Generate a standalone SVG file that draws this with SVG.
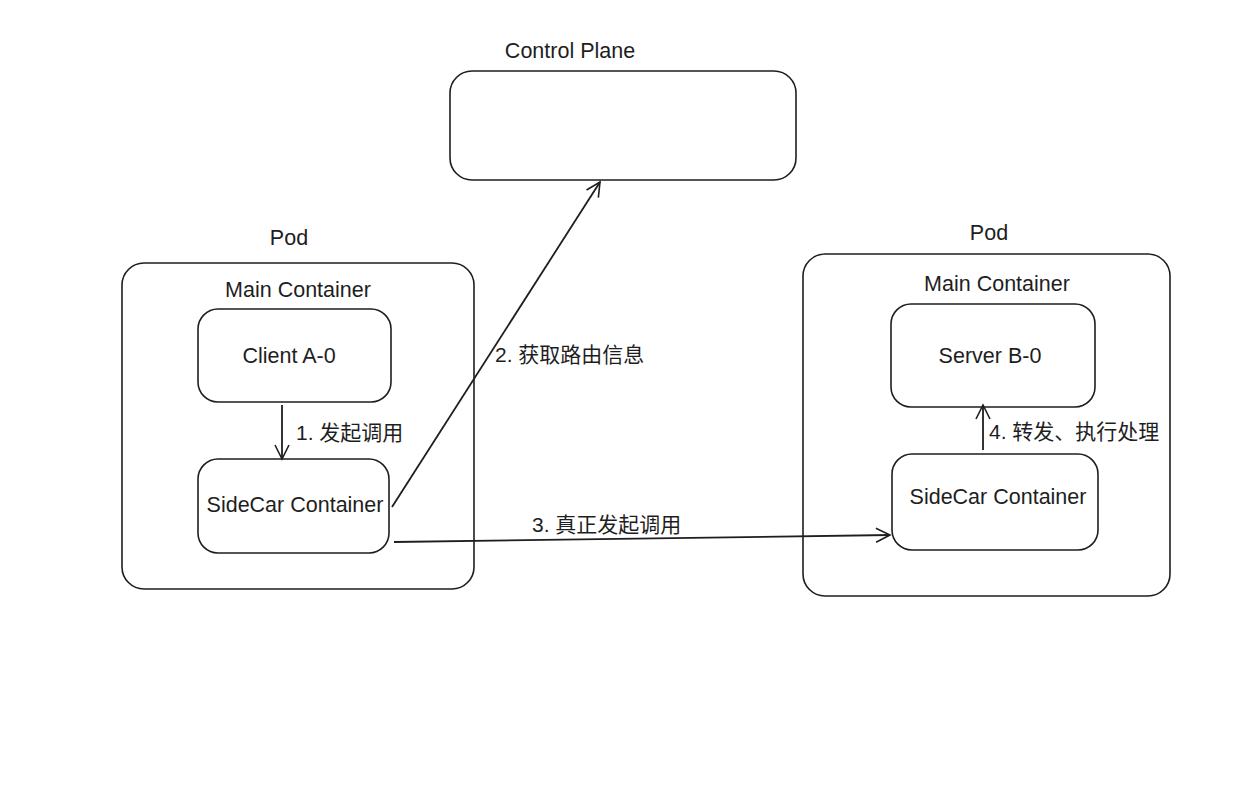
<svg xmlns="http://www.w3.org/2000/svg" width="1249" height="793" viewBox="0 0 1249 793">
<style>
.box{fill:none;stroke:#1e1e1e;stroke-width:1.6}
.t{font-family:"Liberation Sans","Noto Sans CJK SC",sans-serif;font-size:21.5px;fill:#1e1e1e}
.l{font-family:"Liberation Sans","Noto Sans CJK SC",sans-serif;font-size:21px;fill:#1e1e1e}
.c{text-anchor:middle}
.ln{fill:none;stroke:#1e1e1e;stroke-width:1.8}
</style>
<defs>
<marker id="ah" viewBox="0 0 20 20" refX="18" refY="10" markerWidth="20" markerHeight="20" markerUnits="userSpaceOnUse" orient="auto">
<polyline points="4,3 18,10 4,17" fill="none" stroke="#1e1e1e" stroke-width="1.6"/>
</marker>
</defs>
<rect width="1249" height="793" fill="#ffffff"/>
<g id="control-plane">
<text class="t c" x="570" y="58">Control Plane</text>
<rect class="box" x="450" y="71" width="346" height="109" rx="22"/>
</g>
<g id="pod-left">
<text class="t c" x="289" y="245">Pod</text>
<rect class="box" x="122" y="263" width="352" height="326" rx="22"/>
<text class="t c" x="298" y="297">Main Container</text>
</g>
<g id="client-a0">
<rect class="box" x="198" y="309" width="193" height="93" rx="20"/>
<text class="t c" x="289" y="363">Client A-0</text>
</g>
<g id="sidecar-left">
<rect class="box" x="198" y="459" width="191" height="94" rx="20"/>
<text class="t c" x="295" y="512">SideCar Container</text>
</g>
<g id="pod-right">
<text class="t c" x="989" y="240">Pod</text>
<rect class="box" x="803" y="254" width="367" height="342" rx="22"/>
<text class="t c" x="997" y="291">Main Container</text>
</g>
<g id="server-b0">
<rect class="box" x="891" y="304" width="204" height="103" rx="20"/>
<text class="t c" x="990" y="363">Server B-0</text>
</g>
<g id="sidecar-right">
<rect class="box" x="892" y="454" width="206" height="96" rx="20"/>
<text class="t c" x="998" y="504">SideCar Container</text>
</g>
<g id="connectors">
<line class="ln" x1="282" y1="405" x2="282" y2="459" marker-end="url(#ah)"/>
<text class="l" x="296" y="440">1. 发起调用</text>
<line class="ln" x1="392" y1="507" x2="600" y2="182" marker-end="url(#ah)"/>
<text class="l" x="495" y="362">2. 获取路由信息</text>
<line class="ln" x1="394" y1="542" x2="890" y2="535" marker-end="url(#ah)"/>
<text class="l" x="532" y="532">3. 真正发起调用</text>
<line class="ln" x1="983" y1="450" x2="983" y2="405" marker-end="url(#ah)"/>
<text class="l" x="989" y="439">4. 转发、执行处理</text>
</g>
</svg>
